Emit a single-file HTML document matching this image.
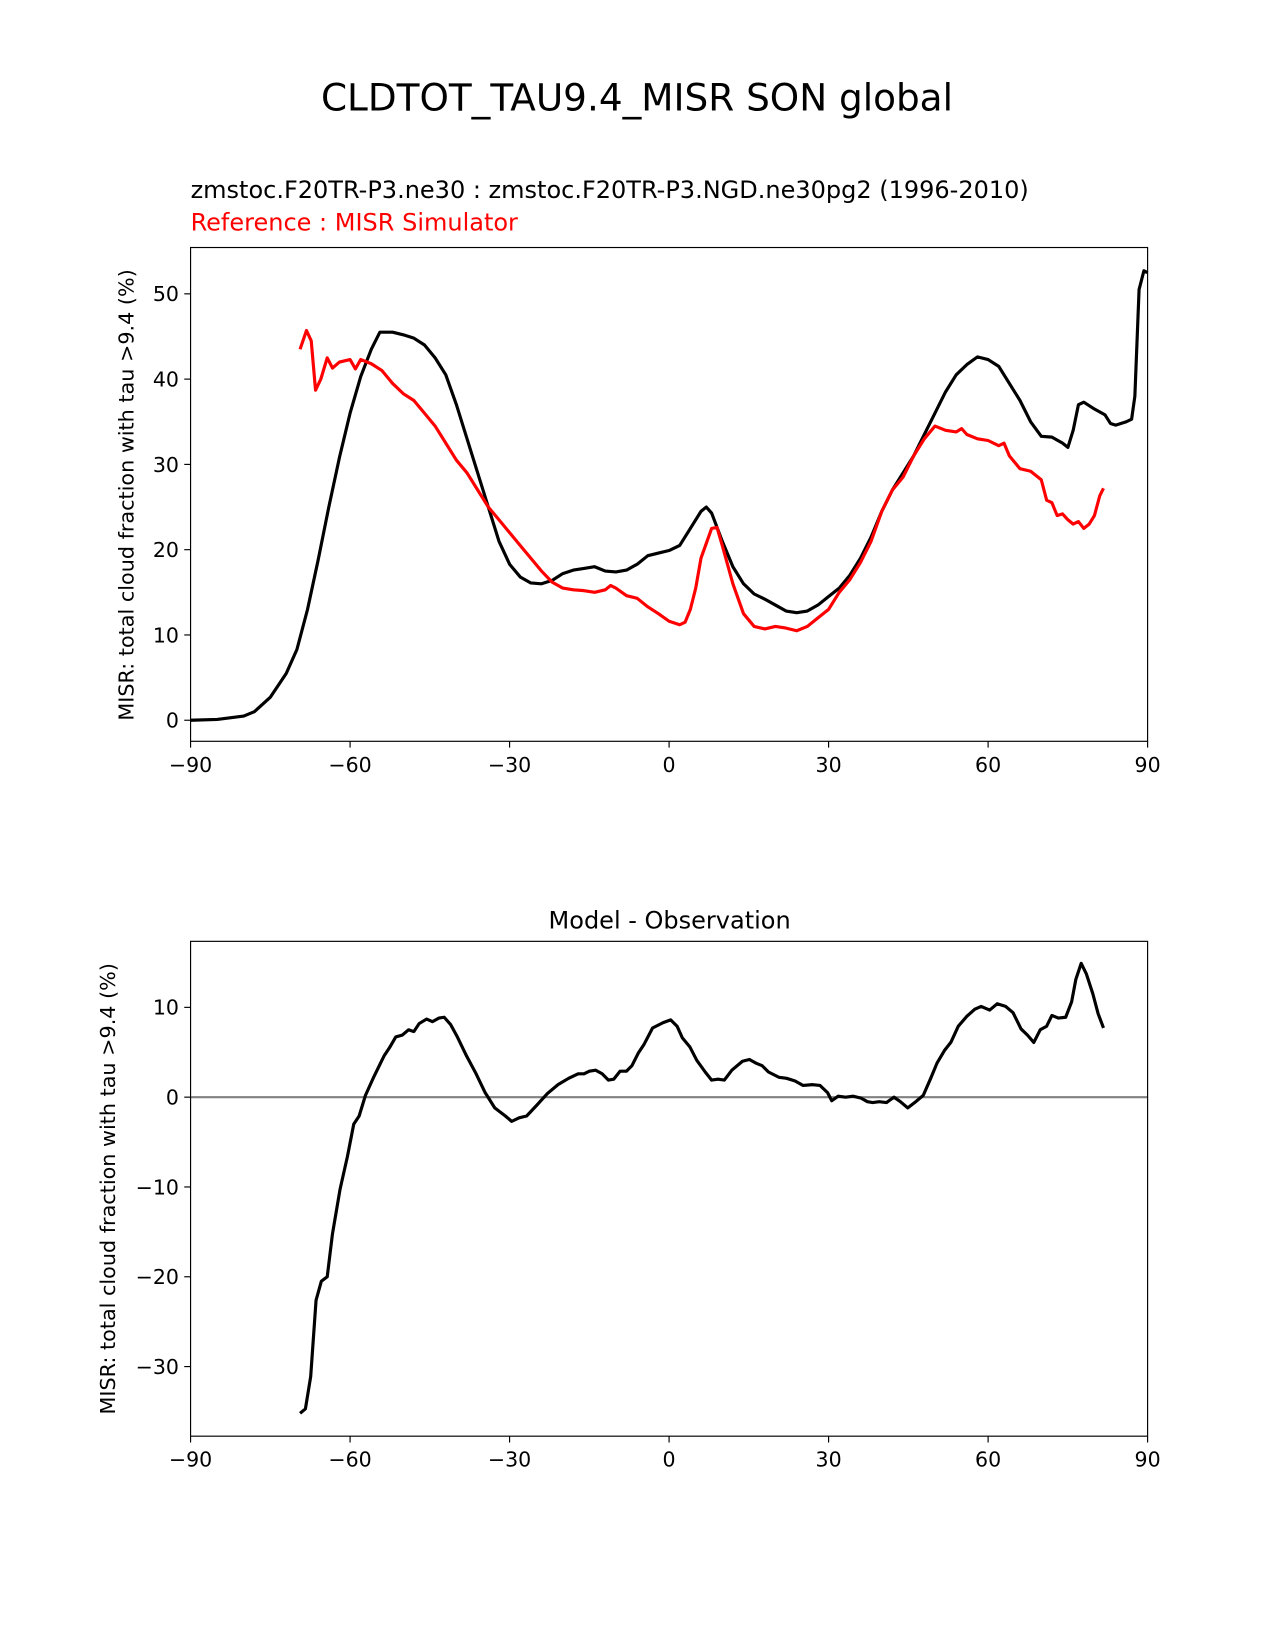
<!DOCTYPE html>
<html><head><meta charset="utf-8"><style>
html,body{margin:0;padding:0;background:#fff}
svg{display:block;font-family:"DejaVu Sans","Liberation Sans",sans-serif}
</style></head><body>
<svg id="chart" width="1275" height="1650" viewBox="0 0 1211 1567" xmlns="http://www.w3.org/2000/svg">
<rect width="1211" height="1567" fill="#fff"/>
<text x="605" y="105" font-size="35.5" text-anchor="middle">CLDTOT_TAU9.4_MISR SON global</text>
<text x="181" y="188" font-size="22.8">zmstoc.F20TR-P3.ne30 : zmstoc.F20TR-P3.NGD.ne30pg2 (1996-2010)</text>
<text x="181" y="219" font-size="22.8" fill="#ff0000">Reference : MISR Simulator</text>
<text x="636" y="882" font-size="22.8" text-anchor="middle">Model - Observation</text>
<text transform="translate(127,470) rotate(-90)" font-size="19.7" text-anchor="middle">MISR: total cloud fraction with tau &gt;9.4 (%)</text>
<text transform="translate(109,1129) rotate(-90)" font-size="19.7" text-anchor="middle">MISR: total cloud fraction with tau &gt;9.4 (%)</text>
<g id="top"></g>
<g id="bot"></g>
</svg>
<script>
const xTicks = [-90,-60,-30,0,30,60,90];
const topYTicks = [0,10,20,30,40,50];
const botYTicks = [-30,-20,-10,0,10];
const modelLat = [-90,-85,-80,-78,-75,-72,-70,-68,-66,-64,-62,-60,-58,-56,-54.4,-52,-50,-48,-46,-44,-42,-40,-38,-36,-34,-32,-30,-28,-26,-24,-22,-20,-18,-16,-14,-12,-10,-8,-6,-4,-2,0,2,4,6,7,8,10,12,14,16,18,20,22,24,26,28,30,32,34,36,38,40,42,44,46,48,50,52,54,56,58,60,62,64,66,68,70,72,74,75,76,77,78,80,82,83,84,86,87,87.6,88.4,89.3,90];
const modelVal = [0,0.1,0.5,1,2.7,5.5,8.3,13,18.8,25,30.8,36,40.3,43.5,45.5,45.5,45.2,44.8,44,42.5,40.5,37,33,29,25,21,18.3,16.8,16.1,16,16.4,17.2,17.6,17.8,18,17.5,17.4,17.6,18.3,19.3,19.6,19.9,20.5,22.5,24.5,25,24.3,21,18,16,14.8,14.2,13.5,12.8,12.6,12.8,13.5,14.5,15.5,17,19,21.5,24.5,27,29,31,33.5,36,38.5,40.5,41.7,42.6,42.3,41.5,39.5,37.5,35,33.3,33.2,32.5,32,34,37,37.3,36.5,35.8,34.8,34.6,35,35.3,38,50.5,52.7,52.5];
const obsLat = [-69.4,-68.2,-67.3,-66.5,-65.5,-64.3,-63.3,-62,-60,-59,-58,-56,-54,-52,-50,-48,-46,-44,-42,-40,-38,-36,-34,-32,-30,-28,-26,-24,-22,-20,-18,-16,-14,-12,-11,-10,-8,-6,-4,-2,0,2,3,4,5,6,8,9,10,12,14,16,18,20,22,24,26,28,30,32,34,36,38,40,42,44,46,48,50,52,54,55,56,58,60,62,63,64,66,68,70,71,72,73,74,75,76,77,78,79,80,81,81.7];
const obsVal = [43.5,45.7,44.5,38.7,40,42.5,41.3,42,42.3,41.2,42.3,41.8,41,39.5,38.3,37.5,36,34.5,32.5,30.5,29,27,25,23.5,22,20.5,19,17.5,16.2,15.5,15.3,15.2,15,15.3,15.8,15.5,14.6,14.3,13.3,12.5,11.6,11.2,11.5,13,15.5,19,22.5,22.6,20.5,16,12.5,11,10.7,11,10.8,10.5,11,12,13,15,16.5,18.5,21,24.5,27,28.5,31,33,34.5,34,33.8,34.2,33.5,33,32.8,32.2,32.5,31,29.5,29.2,28.2,25.8,25.5,24,24.2,23.5,23,23.3,22.5,23,24,26.3,27.2];
const diffLat = [-69.4,-68.4,-67.4,-66.4,-65.4,-64.3,-63.3,-61.9,-60.5,-59.3,-58.3,-57.1,-55.5,-53.6,-52.6,-51.4,-50.2,-49,-48,-47,-45.6,-44.5,-43.3,-42.3,-41.1,-39.9,-38.1,-36.3,-34.6,-32.8,-30.8,-29.6,-28.2,-26.8,-24.9,-22.9,-20.9,-18.9,-17.1,-16,-15,-13.8,-12.6,-11.4,-10.4,-9.2,-8,-7,-5.8,-4.7,-3.1,-1.1,0.3,1.5,2.5,3.9,5.2,6.8,8,9.2,10.4,11.8,13.8,15.1,16.3,17.5,18.7,20.7,22.1,23.7,25.2,27,28.4,29.8,30.6,31.8,33.2,34.6,36.1,37.3,38.3,39.5,40.9,42.3,43.5,44.9,46.2,47.8,49.2,50.4,51.8,53,54.4,56,57.5,58.7,60.3,61.7,63.3,64.7,66.2,67.4,68.6,69.8,71,72,73.2,74.6,75.7,76.5,77.5,78.5,79.7,80.7,81.7];
const diffVal = [-35.2,-34.7,-31.1,-22.6,-20.5,-20,-15.2,-10.3,-6.6,-3,-2.1,0.2,2.3,4.6,5.5,6.7,6.9,7.5,7.3,8.2,8.7,8.4,8.8,8.9,8.1,6.8,4.6,2.6,0.5,-1.2,-2.1,-2.7,-2.3,-2.1,-0.9,0.4,1.4,2.1,2.6,2.6,2.9,3,2.6,1.9,2,2.9,2.9,3.5,4.9,5.9,7.7,8.3,8.6,7.9,6.6,5.6,4.1,2.8,1.9,2,1.9,3,4,4.2,3.8,3.5,2.8,2.2,2.1,1.8,1.3,1.4,1.3,0.5,-0.4,0.1,0,0.1,-0.1,-0.5,-0.6,-0.5,-0.6,0,-0.5,-1.2,-0.6,0.2,2.1,3.8,5.2,6.1,7.9,9,9.8,10.1,9.7,10.4,10.1,9.4,7.6,6.9,6.1,7.5,7.9,9.1,8.8,8.9,10.6,13.1,14.9,13.7,11.5,9.3,7.7];

const NS='http://www.w3.org/2000/svg';
const X0=181, X1=1090;
function xs(v){return X0+(v+90)/180*(X1-X0);}
function mk(tag,attrs,parent){const e=document.createElementNS(NS,tag);for(const k in attrs)e.setAttribute(k,attrs[k]);parent.appendChild(e);return e;}
function drawAxes(g,top,bottom,ys,yTicks,prefix){
  xTicks.forEach(t=>{
    const x=xs(t);
    const l=mk('line',{x1:x,x2:x,y1:bottom,y2:bottom+6,stroke:'#000','stroke-width':1.1},g);
    
    
    const tx=mk('text',{x:x,y:bottom+29,'font-size':19.5,'text-anchor':'middle'},g);
    tx.textContent=(t<0?'\u2212':'')+Math.abs(t);
    
    
  });
  yTicks.forEach(t=>{
    const y=ys(t);
    const l=mk('line',{x1:X0-6,x2:X0,y1:y,y2:y,stroke:'#000','stroke-width':1.1},g);
    
    
    const tx=mk('text',{x:X0-11,y:y+7,'font-size':19.5,'text-anchor':'end'},g);
    tx.textContent=(t<0?'\u2212':'')+Math.abs(t);
    
    
  });
}
function line(g,lat,val,ys,color,name){
  const d=lat.map((a,i)=>(i?'L':'M')+xs(a).toFixed(1)+','+ys(val[i]).toFixed(1)).join(' ');
  const p=mk('path',{d:d,fill:'none',stroke:color,'stroke-width':3,'stroke-linejoin':'round'},g);
  
  
}
const gt=document.getElementById('top');
const T0=235,T1=704;
const ysT=v=>684-(v/50)*(684-279);
line(gt,modelLat,modelVal,ysT,'#000','model-line');
line(gt,obsLat,obsVal,ysT,'#ff0000','reference-line');
const ft=mk('rect',{x:X0,y:T0,width:X1-X0,height:T1-T0,fill:'none',stroke:'#000','stroke-width':1.1},gt);


drawAxes(gt,T0,T1,ysT,topYTicks,'top');
const gb=document.getElementById('bot');
const B0=894,B1=1364;
const ysB=v=>1042-v*8.53;
const zl=mk('line',{x1:X0,x2:X1,y1:ysB(0),y2:ysB(0),stroke:'#808080','stroke-width':2},gb);


line(gb,diffLat,diffVal,ysB,'#000','difference-line');
const fb=mk('rect',{x:X0,y:B0,width:X1-X0,height:B1-B0,fill:'none',stroke:'#000','stroke-width':1.1},gb);


drawAxes(gb,B0,B1,ysB,botYTicks,'bottom');
</script>
</body></html>
